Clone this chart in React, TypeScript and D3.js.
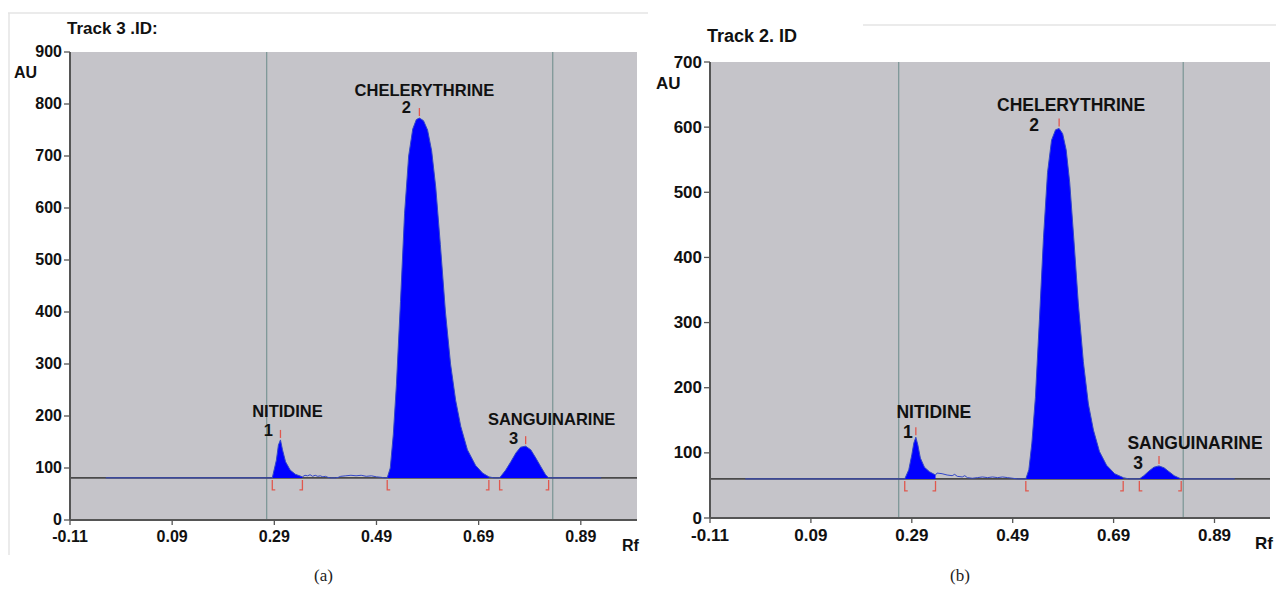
import React from "react";
import * as d3 from "d3";

// Rf axis ticks shared by both tracks
const rfTicks = [-0.11, 0.09, 0.29, 0.49, 0.69, 0.89];
const auTicksA = [0, 100, 200, 300, 400, 500, 600, 700, 800, 900];
const auTicksB = [0, 100, 200, 300, 400, 500, 600, 700];

const peakNames = ["NITIDINE", "CHELERYTHRINE", "SANGUINARINE"];
const peakNumbers = ["1", "2", "3"];

// Track 3 (a): [Rf, AU]
const traceA: [number, number][] = [
  [-0.04, 81], [0.274, 81], [0.286, 81], [0.294, 115], [0.298, 144], [0.302, 154],
  [0.306, 135], [0.312, 112], [0.321, 96], [0.331, 88], [0.345, 83],
  [0.35, 86], [0.355, 85], [0.36, 87], [0.365, 84], [0.37, 86], [0.375, 84],
  [0.38, 85], [0.385, 83], [0.39, 84], [0.395, 82], [0.4, 81], [0.41, 81],
  [0.415, 82], [0.42, 84], [0.43, 85], [0.44, 86], [0.45, 85], [0.46, 86],
  [0.47, 84], [0.48, 85], [0.49, 83], [0.5, 82], [0.505, 81],
  [0.511, 81], [0.517, 100], [0.523, 165], [0.529, 260], [0.537, 420], [0.545, 590],
  [0.553, 700], [0.561, 752], [0.568, 770], [0.574, 773], [0.582, 768], [0.59, 750],
  [0.598, 710], [0.606, 640], [0.615, 530], [0.625, 400], [0.635, 300], [0.645, 230],
  [0.655, 180], [0.668, 135], [0.684, 105], [0.698, 90], [0.71, 83],
  [0.72, 81], [0.731, 81], [0.743, 96], [0.753, 112], [0.763, 129], [0.772, 140],
  [0.782, 142], [0.792, 135], [0.802, 119], [0.812, 102], [0.821, 87], [0.827, 81],
  [0.93, 81],
];
const baselineA = 81;
const peakStartA = [0.286, 0.511, 0.731];
const peakTopA = [0.302, 0.574, 0.782];
const peakEndA = [0.345, 0.71, 0.827];
const markersA = [0.275, 0.835];

// Track 2 (b): [Rf, AU]
const traceB: [number, number][] = [
  [-0.04, 60], [0.266, 60], [0.276, 60], [0.284, 74], [0.29, 97], [0.294, 115],
  [0.298, 124], [0.302, 112], [0.307, 92], [0.315, 78], [0.325, 71], [0.337, 66],
  [0.34, 69], [0.35, 68], [0.36, 66], [0.37, 65], [0.375, 67], [0.38, 64],
  [0.39, 63], [0.395, 65], [0.4, 62], [0.41, 61], [0.42, 62], [0.43, 63],
  [0.44, 62], [0.45, 63], [0.46, 62], [0.47, 63], [0.48, 62], [0.49, 61],
  [0.5, 60], [0.516, 60], [0.522, 74], [0.528, 115], [0.535, 185], [0.543, 305],
  [0.551, 430], [0.559, 530], [0.567, 580], [0.575, 596], [0.582, 598], [0.589, 590],
  [0.596, 565], [0.603, 515], [0.611, 430], [0.62, 330], [0.63, 240], [0.64, 175],
  [0.65, 135], [0.662, 102], [0.676, 81], [0.692, 68], [0.709, 62],
  [0.72, 60], [0.741, 60], [0.75, 65], [0.76, 72], [0.77, 78], [0.78, 80],
  [0.79, 77], [0.8, 71], [0.81, 65], [0.818, 62], [0.824, 60], [0.93, 60],
];
const baselineB = 60;
const peakStartB = [0.276, 0.516, 0.741];
const peakTopB = [0.298, 0.582, 0.78];
const peakEndB = [0.337, 0.709, 0.824];
const markersB = [0.264, 0.828];

const FONT = "'Liberation Sans', Arial, sans-serif";

type PanelProps = {
  title: string;
  caption: string;
  box: { left: number; right: number; top: number; bottom: number };
  yMax: number;
  yTicks: number[];
  trace: [number, number][];
  baseline: number;
  starts: number[];
  tops: number[];
  ends: number[];
  markers: number[];
  fs: number;
  titlePos: [number, number];
  auPos: [number, number];
  // label offsets relative to peak tip: [nameDx, nameDy, numDx, numDy]
  labelOffsets: [number, number, number, number][];
};

function Panel(p: PanelProps) {
  const { left, right, top, bottom } = p.box;
  const x = d3.scaleLinear().domain([-0.11, 1.0]).range([left, right]);
  const y = d3.scaleLinear().domain([0, p.yMax]).range([bottom, top]);
  const line = d3.line<[number, number]>().x((d) => x(d[0])).y((d) => y(d[1]));
  const area = d3
    .area<[number, number]>()
    .x((d) => x(d[0]))
    .y0(y(p.baseline))
    .y1((d) => y(d[1]));
  const valueAt = (rf: number) => {
    const pt = p.trace.reduce((a, b) => (Math.abs(b[0] - rf) < Math.abs(a[0] - rf) ? b : a));
    return pt[1];
  };
  const by = y(p.baseline);

  return (
    <g>
      <rect x={left} y={top} width={right - left} height={bottom - top} fill="#c5c4c9" />
      {p.markers.map((m, i) => (
        <line key={i} x1={x(m)} x2={x(m)} y1={top} y2={bottom} stroke="#7f9898" strokeWidth={1.3} />
      ))}
      <line x1={left} x2={right} y1={by} y2={by} stroke="#4a4a4a" strokeWidth={1.6} />
      {p.starts.map((s, i) => (
        <path
          key={"f" + i}
          d={area(p.trace.filter((d) => d[0] >= s && d[0] <= p.ends[i])) || ""}
          fill="#0000ff"
        />
      ))}
      <path d={line(p.trace) || ""} fill="none" stroke="#3347c8" strokeWidth={1} />
      {p.starts.map((s, i) => (
        <g key={"b" + i} stroke="#e0584e" strokeWidth={1.3} fill="none">
          <path d={`M${x(s) + 3},${by + 12} H${x(s)} V${by + 2}`} />
          <path d={`M${x(p.ends[i]) - 3},${by + 12} H${x(p.ends[i])} V${by + 2}`} />
          <line
            x1={x(p.tops[i])}
            x2={x(p.tops[i])}
            y1={y(valueAt(p.tops[i])) - 2}
            y2={y(valueAt(p.tops[i])) - 10}
          />
        </g>
      ))}
      {p.tops.map((t, i) => {
        const px = x(t);
        const py = y(valueAt(t));
        const o = p.labelOffsets[i];
        return (
          <g key={"l" + i} fontFamily={FONT} fontWeight="bold" fontSize={p.fs + 0.5} fill="#111">
            <text x={px + o[0]} y={py + o[1]} textAnchor="middle">
              {peakNames[i]}
            </text>
            <text x={px + o[2]} y={py + o[3]} textAnchor="middle">
              {peakNumbers[i]}
            </text>
          </g>
        );
      })}
      {/* axes */}
      <line x1={left} x2={right} y1={bottom} y2={bottom} stroke="#555" strokeWidth={2} />
      <line x1={left} x2={left} y1={top} y2={bottom} stroke="#555" strokeWidth={2} />
      {p.yTicks.map((t) => (
        <g key={"y" + t}>
          <line x1={left - 6} x2={left} y1={y(t)} y2={y(t)} stroke="#555" strokeWidth={1.3} />
          <text
            x={left - 8}
            y={y(t) + p.fs * 0.33}
            textAnchor="end"
            fontFamily={FONT}
            fontWeight="bold"
            fontSize={p.fs}
            fill="#111"
          >
            {t}
          </text>
        </g>
      ))}
      {rfTicks.map((t) => (
        <g key={"x" + t}>
          <line x1={x(t)} x2={x(t)} y1={bottom} y2={bottom + 5} stroke="#555" strokeWidth={1.3} />
          <text
            x={x(t)}
            y={bottom + p.fs * 1.38}
            textAnchor="middle"
            fontFamily={FONT}
            fontWeight="bold"
            fontSize={p.fs}
            fill="#111"
          >
            {t.toFixed(2)}
          </text>
        </g>
      ))}
      <text x={right - 15} y={bottom + 31} fontFamily={FONT} fontWeight="bold" fontSize={p.fs} fill="#111">
        Rf
      </text>
      <text x={p.auPos[0]} y={p.auPos[1]} fontFamily={FONT} fontWeight="bold" fontSize={p.fs} fill="#111">
        AU
      </text>
      <text x={p.titlePos[0]} y={p.titlePos[1]} fontFamily={FONT} fontWeight="bold" fontSize={p.fs + 1} fill="#111">
        {p.title}
      </text>
      <text
        x={(left + right) / 2 - 30}
        y={581}
        textAnchor="middle"
        fontFamily="'Liberation Serif', serif"
        fontSize={17}
        fill="#222"
      >
        {p.caption}
      </text>
    </g>
  );
}

export default function App() {
  return (
    <svg
      width={1276}
      height={592}
      style={{ position: "absolute", left: 0, top: 0, background: "#fff" }}
    >
      <g stroke="#e4e4e4" strokeWidth={1.5}>
        <line x1={8} x2={648} y1={13} y2={13} />
        <line x1={9} x2={9} y1={13} y2={555} />
        <line x1={863} x2={1276} y1={25} y2={25} />
      </g>
      <Panel
        title="Track 3 .ID:"
        caption="(a)"
        box={{ left: 70, right: 637, top: 52, bottom: 520 }}
        yMax={900}
        yTicks={auTicksA}
        trace={traceA}
        baseline={baselineA}
        starts={peakStartA}
        tops={peakTopA}
        ends={peakEndA}
        markers={markersA}
        fs={16}
        titlePos={[67, 34]}
        auPos={[14, 78]}
        labelOffsets={[
          [7, -23, -12, -4],
          [5, -22, -13, -5],
          [26, -21, -12, -2],
        ]}
      />
      <Panel
        title="Track 2. ID"
        caption="(b)"
        box={{ left: 710, right: 1270, top: 62, bottom: 518 }}
        yMax={700}
        yTicks={auTicksB}
        trace={traceB}
        baseline={baselineB}
        starts={peakStartB}
        tops={peakTopB}
        ends={peakEndB}
        markers={markersB}
        fs={17}
        titlePos={[707, 42]}
        auPos={[656, 89]}
        labelOffsets={[
          [18, -19, -8, 1],
          [12, -17, -25, 3],
          [36, -17, -21, 3],
        ]}
      />
    </svg>
  );
}
